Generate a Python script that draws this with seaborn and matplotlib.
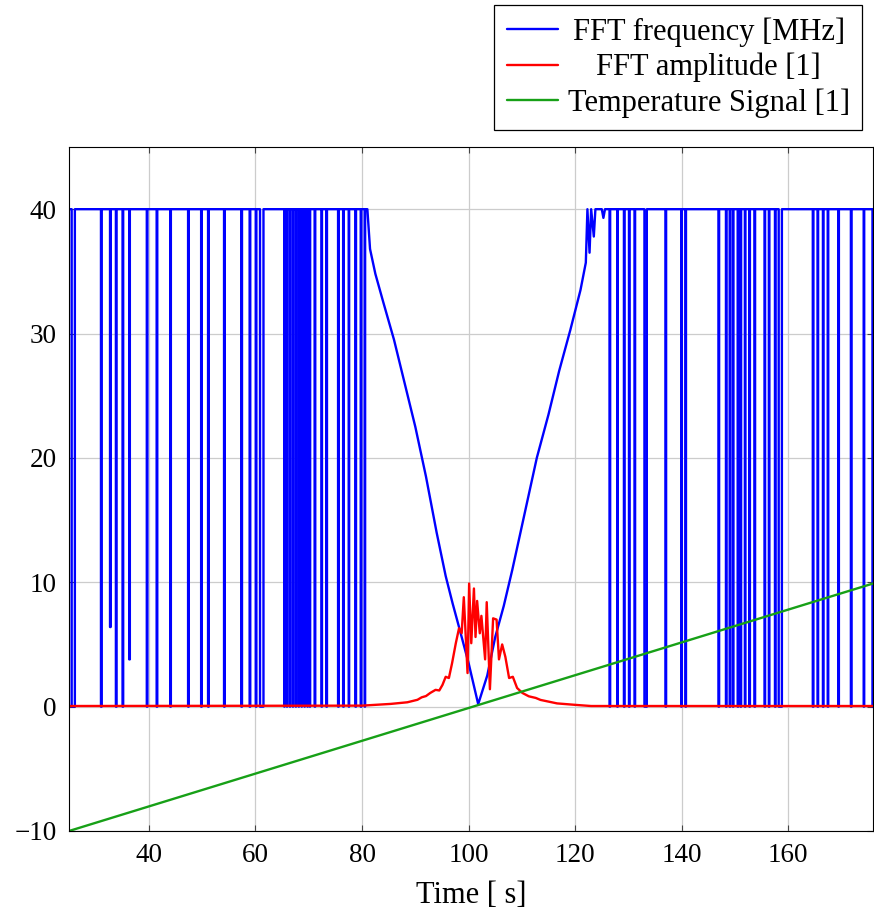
import numpy as np
import pandas as pd
import matplotlib
matplotlib.use("Agg")
import matplotlib.pyplot as plt
import seaborn as sns

# ---------------- data ----------------
freq_top = 40.0

# FFT frequency: drop-outs from the 40 MHz ceiling (start, end, floor value)
left_dip_start = [25.5, 31.0, 32.7, 33.8, 35.05, 36.3, 39.6, 41.45, 44.0, 47.35,
                  49.8, 51.1, 54.1, 57.35, 58.9, 60.05, 60.85, 65.4, 65.9, 66.45,
                  67.0, 67.55, 68.1, 68.65, 69.2, 69.75, 70.2, 71.1, 72.4,
                  73.3, 75.5, 76.45, 77.5, 78.75, 79.75, 80.5]
left_dip_end = [26.1, 31.12, 32.82, 33.92, 35.17, 36.42, 39.72, 41.57, 44.12, 47.47,
                49.92, 51.22, 54.22, 57.47, 59.02, 60.17, 61.5, 65.46, 65.96, 66.51,
                67.06, 67.61, 68.16, 68.71, 69.26, 69.81, 70.26, 71.22, 72.48,
                73.42, 75.62, 76.57, 77.58, 78.87, 79.87, 80.58]
left_dip_floor = [0, 0, 6.4, 0, 0, 3.8, 0, 0, 0, 0,
                  0, 0, 0, 0, 0, 0, 0, 0, 0, 0,
                  0, 0, 0, 0, 0, 0, 0, 0, 0,
                  0, 0, 0, 0, 0, 0, 0]

# FFT frequency: the V-shaped sweep through zero
v_time = [81.0, 81.5, 81.9, 82.5, 84.0, 86.0, 88.0, 90.0, 92.0, 94.0, 95.7, 97.0,
          98.2, 100.0, 101.8, 103.5, 105.0, 106.6, 108.2, 110.5, 112.8, 115.0,
          117.0, 119.1, 121.0, 122.0, 122.3, 122.7, 123.0, 123.5, 123.8, 125.0,
          125.3, 125.6]
v_freq = [40.0, 36.8, 36.0, 34.8, 32.5, 29.5, 26.0, 22.5, 18.5, 14.0, 10.5, 8.3,
          6.4, 3.5, 0.2, 2.5, 5.6, 8.1, 11.0, 15.5, 20.0, 23.5,
          27.0, 30.3, 33.5, 35.7, 40.0, 36.5, 40.0, 37.8, 40.0, 40.0,
          39.3, 40.0]

right_dip_start = [126.45, 127.9, 129.15, 130.1, 131.15, 133.0, 136.95, 139.9, 140.7,
                   146.9, 148.3, 149.0, 149.6, 150.5, 151.05, 151.85, 152.7, 153.65,
                   155.55, 156.35, 157.5, 158.2, 164.6, 165.5, 166.5, 167.4, 169.4,
                   171.75, 174.15, 175.8]
right_dip_end = [126.57, 128.0, 129.27, 130.2, 131.25, 133.45, 137.07, 140.0, 140.8,
                 147.02, 148.4, 149.1, 149.7, 150.6, 151.15, 151.95, 152.8, 153.77,
                 155.65, 156.45, 157.6, 158.8, 164.72, 165.6, 166.6, 167.5, 169.5,
                 171.87, 174.25, 176.0]
right_dip_floor = [0] * 30

# FFT amplitude
amp_time = [25.0, 80.0, 85.4, 88.5, 90.4, 91.2, 92.0, 92.8, 93.8, 94.5, 95.1, 95.7,
            96.3, 96.9, 97.6, 98.2, 98.7, 99.1, 99.8, 100.1, 100.5, 101.0, 101.3,
            101.6, 102.1, 102.4, 103.1, 103.4, 104.0, 104.6, 105.25, 105.7, 106.3,
            106.9, 107.6, 108.3, 109.1, 110.1, 111.3, 112.6, 113.5, 116.6, 120.4,
            123.0, 175.9]
amp_val = [0.05, 0.08, 0.22, 0.35, 0.55, 0.75, 0.85, 1.1, 1.35, 1.3, 1.75, 2.4,
           2.3, 3.5, 5.1, 6.3, 5.9, 8.8, 2.7, 9.9, 5.1, 9.5, 5.6,
           8.5, 5.9, 7.3, 3.8, 8.4, 1.4, 7.1, 7.0, 3.8, 5.0,
           4.0, 2.3, 2.4, 1.5, 1.1, 0.83, 0.7, 0.54, 0.26, 0.13,
           0.05, 0.05]

# Temperature signal
temp_time = [25.0, 175.9]
temp_val = [-10.0, 9.9]

x_ticks = [40, 60, 80, 100, 120, 140, 160]
y_ticks = [-10, 0, 10, 20, 30, 40]

labels = ["FFT frequency [MHz]", "FFT amplitude [1]", "Temperature Signal [1]"]
colors = ["#0000ff", "#ff0000", "#17a017"]

# ---------------- build frequency trace ----------------
ft, fv = [25.0], [freq_top]
for s, e, lv in zip(left_dip_start, left_dip_end, left_dip_floor):
    ft += [s, s, e, e]
    fv += [freq_top, lv, lv, freq_top]
ft += v_time
fv += v_freq
for s, e, lv in zip(right_dip_start, right_dip_end, right_dip_floor):
    ft += [s, s, e, e]
    fv += [freq_top, lv, lv, freq_top]

df_f = pd.DataFrame({"t": ft, "v": fv})
df_a = pd.DataFrame({"t": amp_time, "v": amp_val})
df_T = pd.DataFrame({"t": temp_time, "v": temp_val})

# ---------------- plot ----------------
sns.set_theme(style="whitegrid")
plt.rcParams["font.family"] = ["Liberation Serif", "DejaVu Serif"]
plt.rcParams["axes.unicode_minus"] = True
plt.rcParams["text.color"] = "black"

W, H = 874, 915
fig = plt.figure(figsize=(W / 100, H / 100), dpi=100)
ax = fig.add_axes([69 / W, 1 - 831 / H, (873 - 69) / W, (831 - 147) / H])

lw = 1.7
sns.lineplot(data=df_f, x="t", y="v", sort=False, estimator=None, ax=ax,
             color=colors[0], lw=lw, label=labels[0])
sns.lineplot(data=df_a, x="t", y="v", sort=False, estimator=None, ax=ax,
             color=colors[1], lw=lw, label=labels[1])
sns.lineplot(data=df_T, x="t", y="v", sort=False, estimator=None, ax=ax,
             color=colors[2], lw=lw, label=labels[2])

ax.set_xlim(25, 175.9)
ax.set_ylim(-10, 45)
ax.set_xticks(x_ticks)
ax.set_yticks(y_ticks)
ax.set_facecolor("white")
ax.grid(True, color="#cccccc", lw=0.9)
for sp in ax.spines.values():
    sp.set_color("black")
    sp.set_linewidth(0.8)
ax.tick_params(axis="both", direction="in", length=4, width=0.8, color="#444444",
               labelsize=19.5, labelcolor="black", top=True, right=True,
               bottom=True, left=True)
ax.tick_params(axis="x", pad=9)
ax.tick_params(axis="y", pad=9)
ax.set_xlabel("Time [ s]", fontsize=22, color="black", labelpad=9)
ax.set_ylabel("")

handles, labs = ax.get_legend_handles_labels()
ax.get_legend().remove()
leg = fig.legend(handles, labs, loc="upper right",
                 bbox_to_anchor=(862 / W, 1 - 5 / H), fontsize=22,
                 frameon=True, fancybox=False, framealpha=1, edgecolor="black",
                 handlelength=1.7, handletextpad=0.3, labelspacing=0.2,
                 borderpad=0.4, borderaxespad=0, labelcolor="black")
leg.get_frame().set_linewidth(0.9)
for h in leg.legend_handles:
    h.set_linewidth(1.7)

# center the legend texts within the text column
fig.canvas.draw()
r = fig.canvas.get_renderer()
texts = leg.get_texts()
widths = [t.get_window_extent(r).width for t in texts]
wmax = max(widths)
for t, w in zip(texts, widths):
    t.set_x((wmax - w) / 2)

fig.savefig("out.png", dpi=100)
